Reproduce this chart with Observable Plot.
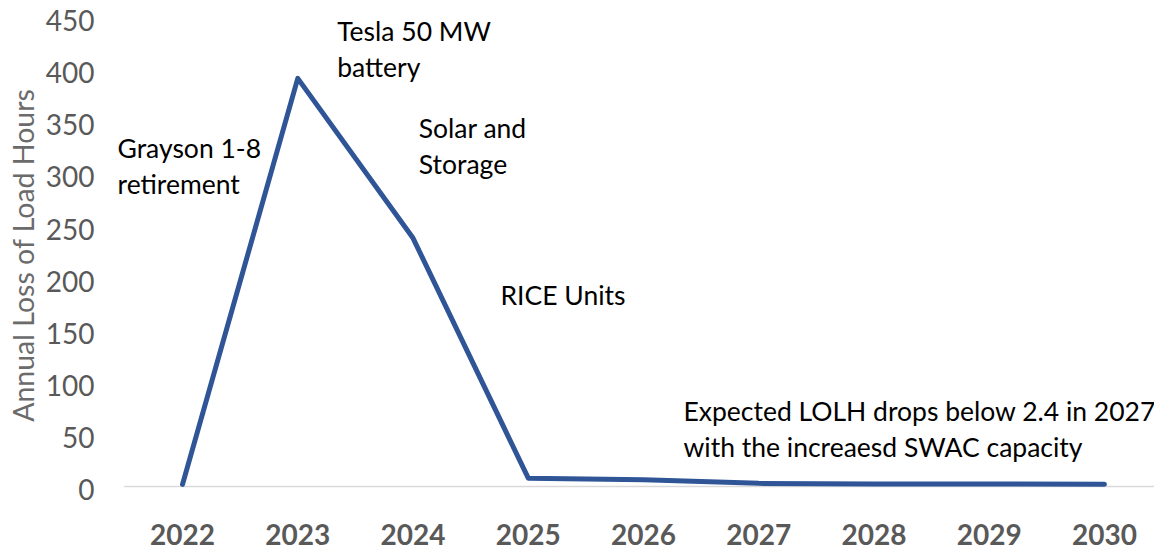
<!DOCTYPE html>
<html>
<head>
<meta charset="utf-8">
<script src="https://cdn.jsdelivr.net/npm/d3@7"></script>
<script src="https://cdn.jsdelivr.net/npm/@observablehq/plot@0.6"></script>
<style>
  html, body { margin: 0; padding: 0; background: #ffffff; }
  #chart { width: 1154px; height: 550px; overflow: hidden; }
</style>
</head>
<body>
<div id="chart"></div>
<script>
// Data
const years = [2022, 2023, 2024, 2025, 2026, 2027, 2028, 2029, 2030];
const lolh = [2, 391, 238, 8, 6.5, 3, 2.5, 2.4, 2.2];
const yTicks = [0, 50, 100, 150, 200, 250, 300, 350, 400, 450];
const yLabel = "Annual Loss of Load Hours";

// Annotations (anchored in data coordinates: year, value)
const noteText = [
  "Grayson 1-8\nretirement",
  "Tesla 50 MW\nbattery",
  "Solar and\nStorage",
  "RICE Units",
  "Expected LOLH drops below 2.4 in 2027\nwith the increaesd SWAC capacity"
];
const noteYear = [2021.436, 2023.342, 2024.05, 2024.759, 2026.347];
const noteValue = [339.4, 451.2, 358.6, 198, 87.2];

const series = years.map((yr, i) => ({year: yr, value: lolh[i]}));
const notes = noteText.map((t, i) => ({text: t, year: noteYear[i], value: noteValue[i]}));

const chart = Plot.plot({
  width: 1154,
  height: 550,
  marginLeft: 124,
  marginRight: 0,
  marginTop: 16,
  marginBottom: 64,
  style: {fontFamily: "Lato, 'Open Sans', sans-serif", background: "#ffffff", overflow: "visible"},
  x: {domain: [2021.5, 2030.5], range: [124.4, 1161.6], axis: null},
  y: {domain: [0, 450], range: [486, 16.3], axis: null},
  marks: [
    Plot.ruleY([0], {stroke: "#d9d9d9", strokeWidth: 1.5}),
    Plot.axisY({ticks: yTicks, tickSize: 0, tickPadding: 30, fontSize: 28, fill: "#595959", dy: 5, label: null}),
    Plot.axisX({ticks: years, tickFormat: "d", tickSize: 0, tickPadding: 39, fontSize: 28, fontWeight: "bold", fill: "#595959", label: null}),
    Plot.text([yLabel], {frameAnchor: "left", textAnchor: "middle", lineAnchor: "middle", rotate: -90, dx: -100, dy: 4, fontSize: 28.5, fill: "#6b6b6b"}),
    Plot.line(series, {x: "year", y: "value", stroke: "#2f5597", strokeWidth: 5, strokeLinejoin: "round", strokeLinecap: "round"}),
    Plot.text(notes, {x: "year", y: "value", text: "text", textAnchor: "start", lineAnchor: "top", fontSize: 26.5, lineHeight: 1.36, fill: "#000000"})
  ]
});
document.getElementById("chart").appendChild(chart);
</script>
</body>
</html>
